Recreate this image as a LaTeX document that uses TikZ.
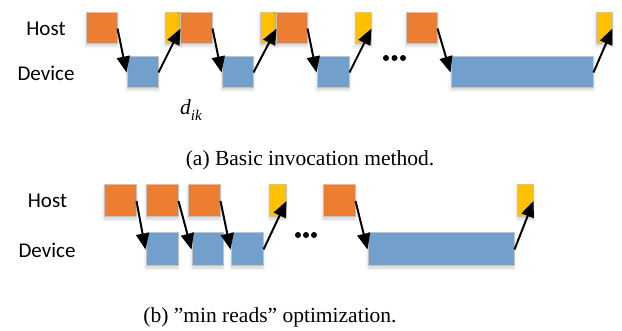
\documentclass[tikz,border=0pt]{standalone}
\usepackage{fontspec}
\setmainfont{Liberation Serif}
\newfontfamily\calib{Carlito}
\usetikzlibrary{arrows.meta,shadows.blur}
\definecolor{boxorange}{RGB}{237,125,49}
\definecolor{boxyellow}{RGB}{255,192,0}
\definecolor{boxblue}{RGB}{115,159,205}
\definecolor{boxedge}{RGB}{195,195,195}
\tikzset{
  blk/.style={draw=boxedge, line width=1pt, inner sep=0pt, rectangle,
    blur shadow={shadow xshift=0pt, shadow yshift=-2pt, shadow blur radius=3pt, shadow opacity=18}},
  ob/.style={blk, fill=boxorange, minimum width=31pt, minimum height=31pt},
  yb/.style={blk, fill=boxyellow, minimum height=31pt},
  bb/.style={blk, fill=boxblue, minimum height=31pt},
  lab/.style={font=\calib\fontsize{21}{24}\selectfont, inner sep=0pt},
  captxt/.style={font=\fontsize{21.5}{24}\selectfont, inner sep=0pt},
  arr/.style={-{Triangle[length=16pt,width=13pt]}, line width=2pt, black},
  dotmark/.style={circle, fill=black, inner sep=0pt, minimum size=6pt}
}
\begin{document}
\begin{tikzpicture}[x=1pt,y=-1pt]
\useasboundingbox (0,0) rectangle (622,331);
% ---------- (a) ----------
\node[lab] (hostA) at (46,28.5) {Host};
\node[lab] (devA) at (46,73) {Device};
\node[ob] (o1) at (101.5,28.5) {};
\node[bb, minimum width=31pt] (b1) at (142.5,72.5) {};
\node[yb, minimum width=15pt] (y1) at (172.5,28.5) {};
\node[ob, minimum width=32pt] (o2) at (196,28.5) {};
\node[bb, minimum width=31pt] (b2) at (237.5,72.5) {};
\node[yb, minimum width=16pt] (y2) at (268,28.5) {};
\node[ob] (o3) at (291.5,28.5) {};
\node[bb, minimum width=32pt] (b3) at (333,72.5) {};
\node[yb, minimum width=16pt] (y3) at (363,28.5) {};
\node[dotmark] (da1) at (386,58) {};
\node[dotmark] (da2) at (394.5,58) {};
\node[dotmark] (da3) at (403,58) {};
\node[ob] (o4) at (421.5,28.5) {};
\node[bb, minimum width=142pt] (b4) at (522,72.5) {};
\node[yb, minimum width=16pt] (y4) at (604,28.5) {};
\draw[arr] (o1.east) -- (b1.west);
\draw[arr] (b1.east) -- (y1.east);
\draw[arr] (o2.east) -- (b2.west);
\draw[arr] (b2.east) -- (y2.east);
\draw[arr] (o3.east) -- (b3.west);
\draw[arr] (b3.east) -- (y3.east);
\draw[arr] (o4.east) -- (b4.west);
\draw[arr] (b4.east) -- (y4.east);
\node[captxt] (dik) at (191,110) {\textit{d}\raisebox{-0.28em}{\fontsize{15}{16}\selectfont\textit{ik}}};
\node[captxt] (capA) at (310,160) {(a) Basic invocation method.};
% ---------- (b) ----------
\node[lab] (hostB) at (47.5,201) {Host};
\node[lab] (devB) at (47,250) {Device};
\node[ob, minimum width=32pt, minimum height=32pt] (p1) at (120,201) {};
\node[ob, minimum width=32pt, minimum height=32pt] (p2) at (162,201) {};
\node[ob, minimum width=32pt, minimum height=32pt] (p3) at (204,201) {};
\node[yb, minimum width=17pt, minimum height=32pt] (q1) at (277.5,201) {};
\node[bb, minimum width=32pt, minimum height=33pt] (r1) at (162,249.5) {};
\node[bb, minimum width=31pt, minimum height=33pt] (r2) at (207.5,249.5) {};
\node[bb, minimum width=32pt, minimum height=33pt] (r3) at (247,249.5) {};
\node[dotmark] (db1) at (298,235) {};
\node[dotmark] (db2) at (306,235) {};
\node[dotmark] (db3) at (314,235) {};
\node[ob, minimum width=32pt, minimum height=32pt] (p4) at (339,201) {};
\node[bb, minimum width=146pt, minimum height=33pt] (r4) at (441,249.5) {};
\node[yb, minimum width=16pt, minimum height=32pt] (q2) at (525,201) {};
\draw[arr] (p1.east) -- (r1.west);
\draw[arr] (p2.east) -- (r2.west);
\draw[arr] (p3.east) -- (r3.west);
\draw[arr] (r3.east) -- (q1.east);
\draw[arr] (p4.east) -- (r4.west);
\draw[arr] (r4.east) -- (q2.east);
\node[captxt] (capB) at (270,317.5) {(b) ”min reads” optimization.};
\end{tikzpicture}
\end{document}
